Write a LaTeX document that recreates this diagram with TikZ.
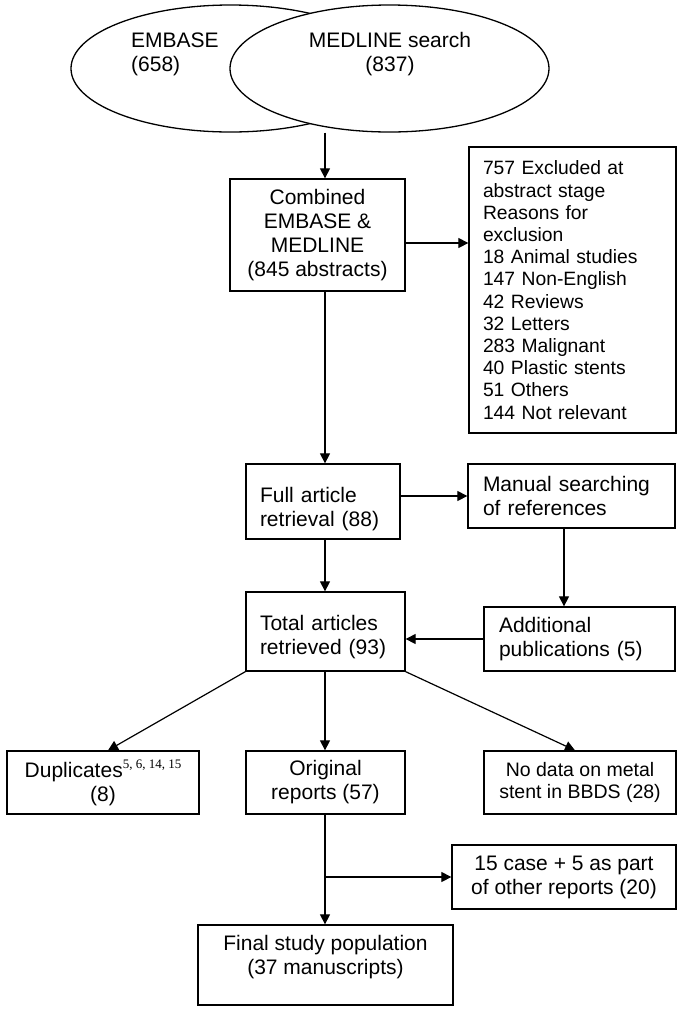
\documentclass[tikz,border=0pt]{standalone}
\usepackage{fontspec}
\setmainfont{Liberation Sans}
\newfontfamily\refsfont{Liberation Serif}
\usetikzlibrary{arrows.meta,shapes.geometric}

\newcommand{\mainsize}{\fontsize{21}{24}\selectfont}
\newcommand{\listsize}{\fontsize{19.3}{22.2}\selectfont}

\tikzset{
  box/.style={draw, rectangle, line width=1.3pt, inner sep=0pt, font=\mainsize},
  lbox/.style={box, align=left, text width=#1},
  flow/.style={-{Triangle[length=10pt,width=10pt]}, line width=1.2pt},
}

\begin{document}
\begin{tikzpicture}[x=1pt, y=-1pt]

  \useasboundingbox (0,0) rectangle (680,1013);

  % -- Search sources --
  \node[box, ellipse, minimum width=319pt, minimum height=127pt] (embase) at (230.5,68.5) {};
  \node[box, ellipse, fill=white, minimum width=319pt, minimum height=127pt] (medline) at (389.5,68.5) {};
  \node[font=\mainsize, align=left, anchor=west, inner sep=0pt] (embasetxt) at (131,54.5) {EMBASE\\(658)};
  \node[font=\mainsize, align=center, inner sep=0pt] (medlinetxt) at (390,54.5) {MEDLINE search\\(837)};

  % -- Abstract stage --
  \node[box, align=center, minimum width=175pt, minimum height=112pt] (combined) at (317.5,235)
    {Combined\\EMBASE \&\\MEDLINE\\(845 abstracts)};
  \node[lbox=179pt, font=\listsize, minimum width=207pt, minimum height=286pt] (excluded) at (572.5,290)
    {757 Excluded at\\abstract stage\\Reasons for\\exclusion\\18 Animal studies\\147 Non-English\\42 Reviews\\32 Letters\\283 Malignant\\40 Plastic stents\\51 Others\\144 Not relevant};

  % -- Article stage --
  \node[lbox=126pt, minimum width=154pt, minimum height=75pt, text depth=14pt] (full) at (323,501.5)
    {Full article\\retrieval (88)};
  \node[lbox=177pt, minimum width=207pt, minimum height=64pt] (manual) at (571.5,496)
    {Manual searching\\of references};
  \node[lbox=131pt, minimum width=159pt, minimum height=79pt, text depth=18pt] (total) at (325.5,631.5)
    {Total articles\\retrieved (93)};
  \node[lbox=161pt, minimum width=191pt, minimum height=64pt] (additional) at (579.5,639)
    {Additional\\publications (5)};

  % -- Split of retrieved articles --
  \node[box, align=center, minimum width=192pt, minimum height=63pt] (dup) at (103,782.5)
    {Duplicates\raisebox{9pt}{\fontsize{13}{13}\refsfont 5, 6, 14, 15}\\(8)};
  \node[box, align=center, minimum width=159pt, minimum height=63pt] (original) at (325.5,782.5)
    {Original\\reports (57)};
  \node[box, align=center, font=\fontsize{19.5}{22}\selectfont, minimum width=192pt, minimum height=63pt] (nodata) at (580,782.5)
    {No data on metal\\stent in BBDS (28)};

  % -- Final population --
  \node[box, align=center, minimum width=224pt, minimum height=64pt] (casebox) at (564,877)
    {15 case + 5 as part\\of other reports (20)};
  \node[box, align=center, minimum width=255pt, minimum height=80pt, text depth=21pt] (final) at (325.5,965)
    {Final study population\\(37 manuscripts)};

  % main column
  \coordinate (spine) at (325,0);

  % connectors
  \draw[flow] (spine |- medline.south) -- (spine |- combined.north);
  \draw[flow] ([yshift=-8pt]combined.east) -- ([yshift=-8pt]combined.east -| excluded.west);
  \draw[flow] (spine |- combined.south) -- (spine |- full.north);
  \draw[flow] (full.east |- manual.west) -- (manual.west);
  \draw[flow] ([xshift=-7.5pt]manual.south) -- ([xshift=-7.5pt]manual.south |- additional.north);
  \draw[flow] (spine |- full.south) -- (spine |- total.north);
  \draw[flow] (additional.west) -- (additional.west -| total.east);
  \draw[flow] (total.south west) -- ([xshift=5pt]dup.north);
  \draw[flow] (spine |- total.south) -- (spine |- original.north);
  \draw[flow] (total.south east) -- ([xshift=-5pt]nodata.north);
  \draw[flow] (spine |- original.south) -- (spine |- final.north);
  \draw[flow] (spine |- casebox.west) -- (casebox.west);

\end{tikzpicture}
\end{document}
